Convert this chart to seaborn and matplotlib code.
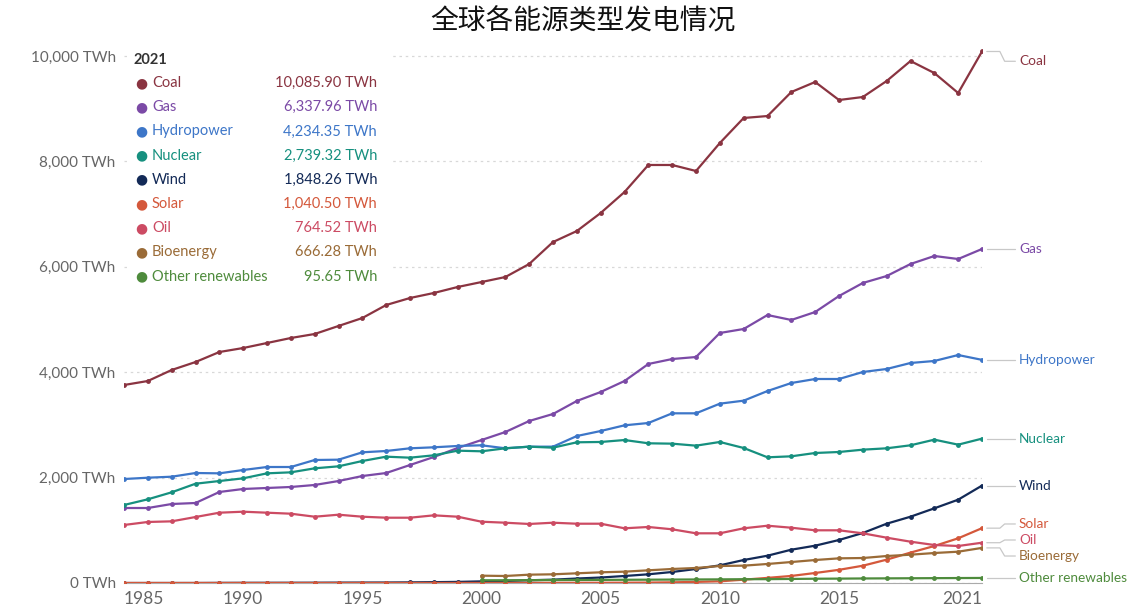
import numpy as np
import pandas as pd
import matplotlib.pyplot as plt
import seaborn as sns
from matplotlib.patches import Rectangle

# electricity generation by source, world, TWh
years = list(range(1985, 2022))
nan = np.nan

coal = [3757, 3833, 4042, 4193, 4383, 4459, 4554, 4649, 4725, 4877,
        5028, 5275, 5408, 5503, 5617, 5711, 5806, 6053, 6470, 6679,
        7021, 7419, 7932, 7932, 7818, 8349, 8824, 8861, 9317, 9507,
        9165, 9222, 9526, 9905, 9677, 9298, 10085.90]
gas = [1423, 1423, 1499, 1518, 1727, 1784, 1803, 1822, 1860, 1935,
       2030, 2087, 2239, 2391, 2562, 2713, 2865, 3074, 3207, 3454,
       3624, 3833, 4156, 4250, 4288, 4744, 4820, 5085, 4991, 5142,
       5446, 5693, 5825, 6053, 6205, 6148, 6337.96]
hydro = [1973, 1998, 2017, 2087, 2081, 2144, 2201, 2201, 2334, 2340,
         2480, 2505, 2556, 2575, 2600, 2613, 2556, 2587, 2587, 2789,
         2884, 2992, 3036, 3220, 3220, 3403, 3460, 3643, 3795, 3871,
         3871, 4004, 4061, 4175, 4213, 4326, 4234.35]
nuclear = [1480, 1588, 1721, 1884, 1935, 1986, 2081, 2100, 2176, 2214,
           2315, 2397, 2378, 2423, 2511, 2499, 2556, 2587, 2568, 2670,
           2676, 2713, 2651, 2644, 2606, 2676, 2562, 2385, 2404, 2467,
           2486, 2530, 2556, 2613, 2720, 2625, 2739.32]
wind = [0.1, 0.2, 0.3, 0.4, 2.4, 3.6, 4.1, 4.7, 5.6, 7.2,
        8.3, 9.2, 12, 16, 21, 31, 38, 52, 63, 85,
        104, 133, 165, 209, 266, 335, 436, 518, 632, 708,
        816, 949, 1125, 1258, 1417, 1581, 1848.26]
solar = [0.01, 0.02, 0.02, 0.03, 0.04, 0.09, 0.1, 0.1, 0.2, 0.2,
         0.2, 0.3, 0.4, 0.5, 0.8, 1.1, 1.5, 2, 2.8, 3.9,
         4.6, 6, 8, 13, 21, 32, 63, 97, 134, 190,
         250, 328, 443, 577, 702, 848, 1040.50]
oil = [1101, 1158, 1170, 1252, 1334, 1353, 1334, 1315, 1258, 1296,
       1258, 1239, 1239, 1284, 1258, 1163, 1144, 1120, 1144, 1125,
       1125, 1038, 1063, 1019, 943, 943, 1038, 1087, 1049, 1000,
       1000, 943, 860, 784, 721, 702, 764.52]
bioenergy = [nan] * 15 + [139, 133, 158, 165, 184,
                          203, 215, 241, 266, 285, 323, 329, 361, 398, 436,
                          468, 474, 512, 537, 569, 594, 666.28]
other = [nan] * 15 + [52, 52, 54, 56, 58,
                      59, 61, 63, 65, 67, 69, 72, 73, 77, 81,
                      83, 86, 88, 90, 92, 94, 95.65]

sources = ["Coal", "Gas", "Hydropower", "Nuclear", "Wind", "Solar", "Oil",
           "Bioenergy", "Other renewables"]
series = [coal, gas, hydro, nuclear, wind, solar, oil, bioenergy, other]
colors = ["#8a3441", "#7b4aa6", "#3d76c8", "#16907f", "#132a57", "#d4583b",
          "#cc4b63", "#9a6b37", "#4e8b3c"]
title = "全球各能源类型发电情况"

# end label heights (TWh) where they have to be nudged apart
label_y = {"Coal": 9900, "Solar": 1120, "Oil": 816, "Bioenergy": 512}

rows = []
for name, vals in zip(sources, series):
    for y, v in zip(years, vals):
        rows.append({"year": y, "source": name, "twh": v})
df = pd.DataFrame(rows).dropna()

sns.set_style("white")
plt.rcParams["font.family"] = ["Lato", "DejaVu Sans"]

W, H = 1128, 606
fig = plt.figure(figsize=(W / 100, H / 100), dpi=100)
ax = fig.add_axes([124 / W, 1 - 583 / H, (982 - 124) / W, (583 - 40.2) / H])

palette = dict(zip(sources, colors))
sns.lineplot(data=df, x="year", y="twh", hue="source", hue_order=sources,
             palette=palette, marker="o", markersize=3.5, markeredgewidth=0,
             linewidth=1.6, legend=False, ax=ax, zorder=4)

ax.set_xlim(1985, 2021)
ax.set_ylim(0, 10300)
ax.set_xlabel("")
ax.set_ylabel("")

yt = [0, 2000, 4000, 6000, 8000, 10000]
ax.set_yticks(yt)
ax.set_yticklabels([f"{v:,} TWh" for v in yt], color="#666666", fontsize=11)
ax.tick_params(axis="y", length=0, pad=6)
ax.yaxis.grid(True, color="#d8d8d8", linestyle=(0, (2, 3)), linewidth=0.9)
ax.set_axisbelow(True)

xt = [1985, 1990, 1995, 2000, 2005, 2010, 2015, 2021]
ax.set_xticks(xt)
ax.set_xticklabels([str(v) for v in xt], color="#666666", fontsize=12.5)
ax.tick_params(axis="x", length=4, color="#aaaaaa", width=0.8, pad=2)
xl = ax.get_xticklabels()
xl[0].set_horizontalalignment("left")
xl[-1].set_horizontalalignment("right")

for s in ["top", "right", "left"]:
    ax.spines[s].set_visible(False)
ax.spines["bottom"].set_color("#aaaaaa")
ax.spines["bottom"].set_linewidth(0.8)

# end-of-line labels with connectors
for name, vals, c in zip(sources, series, colors):
    y0 = vals[-1]
    y1 = label_y.get(name, y0)
    ax.plot([2021.2, 2021.75, 2021.95, 2022.4], [y0, y0, y1, y1],
            color="#c8c8c8", linewidth=0.9, clip_on=False)
    ax.text(2022.55, y1, name, color=c, fontsize=9.8, va="center",
            ha="left", clip_on=False)

# legend box for 2021 values
def fx(x):
    return x / W


def fy(y):
    return 1 - y / H


fig.patches.append(Rectangle((fx(128), fy(290)), fx(262), 246 / H,
                             transform=fig.transFigure, facecolor="white",
                             edgecolor="none", zorder=5))
fig.text(fx(134), fy(60), "2021", color="#333333", fontsize=10.5,
         fontweight="bold", va="center", zorder=6)
for i, (name, vals, c) in enumerate(zip(sources, series, colors)):
    yy = fy(83 + i * 24.2)
    fig.text(fx(141), yy, "\u25cf", color=c, fontsize=10, va="center",
             ha="center", family=["DejaVu Sans"], zorder=6)
    fig.text(fx(152), yy, name, color=c, fontsize=10.5, va="center",
             zorder=6)
    fig.text(fx(377), yy, f"{vals[-1]:,.2f} TWh", color=c, fontsize=10.5,
             va="center", ha="right", zorder=6)

fig.text(fx(583), fy(22), title, fontsize=20, ha="center", va="center",
         color="#111111", family=["Noto Sans CJK SC", "DejaVu Sans"])

fig.savefig("out.png", dpi=100)
